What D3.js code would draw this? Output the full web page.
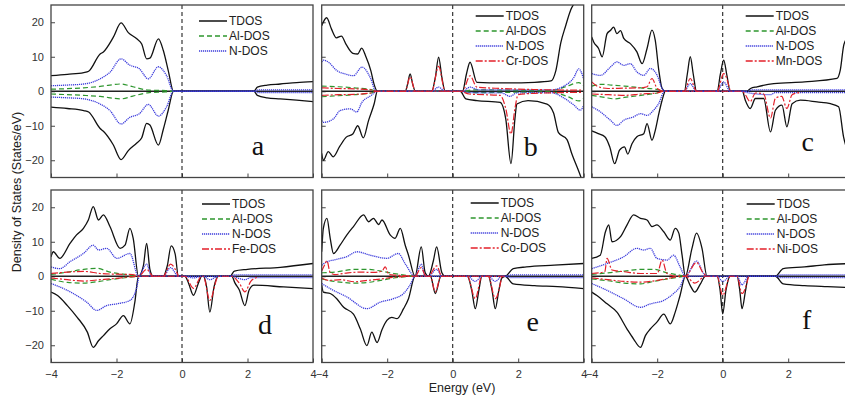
<!DOCTYPE html>
<html>
<head>
<meta charset="utf-8">
<script src="https://cdn.jsdelivr.net/npm/d3@7"></script>
<style>
  body { margin: 0; background: #fff; }
  svg { display: block; font-family: "Liberation Sans", Arial, sans-serif; }
</style>
</head>
<body>
<svg id="chart" width="845" height="398"></svg>
<script>
// ticks and labels
const energyTicks = [-4, -2, 0, 2, 4];
const dosTicks = [-20, -10, 0, 10, 20];
const panelLetters = ['a', 'b', 'c', 'd', 'e', 'f'];
const metalNames = [null, 'Cr', 'Mn', 'Fe', 'Co', 'Ni'];

// ---- panel a : AlN ----
const tdosUpA = [[-4,4.5],[-3.5,4.9],[-3,5.4],[-2.85,5.8],[-2.5,10.8],[-2.4,11.4],[-2.1,15.6],[-1.86,19.8],[-1.64,17],[-1.38,15.2],[-1.23,13.7],[-1.08,9.4],[-0.98,9.6],[-0.72,15.2],[-0.57,11.8],[-0.42,6],[-0.26,0],[2.2,0],[2.3,1.2],[2.6,1.8],[3,2.1],[3.5,2.5],[4,2.8]];
const tdosDnA = [[-4,-4.6],[-3.5,-5],[-3,-5.6],[-2.85,-6],[-2.5,-10.8],[-2.4,-11.6],[-2.1,-15.5],[-1.86,-19.8],[-1.64,-17.2],[-1.38,-15],[-1.23,-13.5],[-1.08,-9.3],[-0.98,-9.8],[-0.72,-15.6],[-0.57,-11],[-0.42,-5.5],[-0.26,0],[2.2,0],[2.3,-1.2],[2.6,-1.9],[3,-2.2],[3.5,-2.6],[4,-3]];
const alUpA = [[-4,0.6],[-3,1.0],[-2.5,1.4],[-1.86,2.1],[-1.5,1.3],[-1.0,0.3],[-0.5,0.2],[-0.26,0]];
const alDnA = [[-4,-0.8],[-3,-1.2],[-2.5,-1.5],[-1.86,-2.2],[-1.5,-1.4],[-1.0,-0.4],[-0.5,-0.2],[-0.26,0]];
const nUpA = [[-4,1.6],[-3.5,1.8],[-3,2.1],[-2.5,3.6],[-2.2,5.5],[-1.86,9.4],[-1.6,7.6],[-1.3,6.5],[-1.03,3.6],[-0.72,7.1],[-0.47,4.5],[-0.26,0],[2.2,0],[2.35,0.4],[4,0.4]];
const nDnA = [[-4,-1.7],[-3.5,-1.9],[-3,-2.2],[-2.5,-3.7],[-2.2,-5.6],[-1.86,-9.5],[-1.6,-7.6],[-1.3,-6.5],[-1.03,-3.8],[-0.72,-7.2],[-0.47,-4.5],[-0.26,0],[2.2,0],[2.35,-0.4],[4,-0.4]];

// ---- panel b : Cr ----
const tdosUpB = [[-4,19],[-3.85,21.3],[-3.7,18],[-3.55,15.5],[-3.4,16],[-3.25,13.5],[-3.05,11],[-2.9,10.8],[-2.78,12.5],[-2.65,10],[-2.5,6],[-2.4,2],[-2.3,0],[-1.45,0],[-1.38,2],[-1.3,5],[-1.22,2],[-1.14,0],[-0.64,0],[-0.53,4],[-0.43,9.9],[-0.33,4],[-0.23,0],[0.3,0],[0.42,5],[0.53,8.4],[0.74,2.6],[1.5,2.4],[2.5,2.6],[3.0,3],[3.15,6],[3.3,14],[3.45,19],[3.6,23.5],[3.75,26],[4,28]];
const tdosDnB = [[-4,-18],[-3.95,-20],[-3.8,-17.5],[-3.65,-19],[-3.45,-16],[-3.25,-13.3],[-3.05,-12.4],[-2.9,-10],[-2.73,-13.5],[-2.57,-8.5],[-2.4,-3.7],[-2.3,0],[0.23,0],[0.4,-2.2],[0.74,-2.7],[1.45,-3.2],[1.62,-8],[1.78,-21],[1.9,-8],[1.96,-3.7],[2.3,-2.7],[2.88,-3.7],[3.08,-6.3],[3.23,-12],[3.49,-14],[3.64,-18.2],[3.84,-23],[4,-27]];
const alUpB = [[-4,1.5],[-3.5,1.3],[-3,1],[-2.5,0.5],[-2.3,0],[0.3,0],[0.6,0.4],[3.0,0.2],[3.5,1.5],[3.85,2.5],[4,1.5]];
const alDnB = [[-4,-1.6],[-3.5,-1.3],[-3,-1],[-2.5,-0.5],[-2.3,0],[0.3,0],[0.6,-0.4],[3.0,-0.2],[3.5,-1.5],[3.85,-2.8],[4,-2]];
const nUpB = [[-4,8.5],[-3.94,9],[-3.79,8.4],[-3.54,6],[-3.28,5],[-3.03,4.5],[-2.77,7],[-2.5,3.6],[-2.35,0],[-0.64,0],[-0.43,1.2],[-0.23,0],[0.3,0],[0.53,1.2],[0.8,0.4],[3.0,0.4],[3.4,1.5],[3.7,4],[3.85,6.5],[4,3.5]];
const nDnB = [[-4,-8.5],[-3.94,-9],[-3.64,-8],[-3.44,-5.6],[-3.13,-5.1],[-2.93,-6],[-2.77,-3.2],[-2.5,-1.3],[-2.3,0],[0.23,0],[0.5,-0.4],[1.5,-0.5],[1.75,-1.5],[1.95,-0.5],[3.0,-0.4],[3.4,-2],[3.7,-4],[3.9,-5.5],[4,-4]];
const mUpB = [[-4,1],[-3.5,0.8],[-3,0.7],[-2.5,0.4],[-2.3,0],[-1.45,0],[-1.3,4.2],[-1.14,0],[-0.64,0],[-0.43,7.2],[-0.23,0],[0.3,0],[0.53,4.5],[0.74,1.2],[1.5,0.8],[2.5,0.5],[4,0.3]];
const mDnB = [[-4,-1.2],[-3.5,-1],[-3,-0.9],[-2.5,-0.5],[-2.3,0],[0.23,0],[0.5,-0.8],[1.45,-1.2],[1.62,-5],[1.78,-12.4],[1.9,-5],[2.0,-1],[2.5,-0.6],[4,-0.3]];

// ---- panel c : Mn ----
const tdosUpC = [[-4,15.7],[-3.94,14.3],[-3.79,12.4],[-3.68,10],[-3.53,16.7],[-3.43,17.6],[-3.33,18.6],[-3.23,16.7],[-3.12,17.6],[-3.02,15.3],[-2.82,13.8],[-2.62,11.4],[-2.46,8],[-2.31,12.4],[-2.16,17.7],[-2.06,14.8],[-1.95,6],[-1.85,0.8],[-1.75,0],[-1.17,0],[-1.08,5],[-0.99,10],[-0.9,5],[-0.8,0],[-0.17,0],[-0.07,5],[0.03,9],[0.13,4.5],[0.23,0],[0.74,0],[0.85,0.8],[1.05,1.3],[1.56,2.2],[2.5,2.7],[3.49,3.7],[3.59,6.1],[3.7,13.5],[3.85,16],[4,17]];
const tdosDnC = [[-4,-11.5],[-3.8,-12.3],[-3.6,-13.2],[-3.45,-16.1],[-3.3,-21],[-3.15,-17.1],[-3.0,-16.1],[-2.9,-18.2],[-2.77,-15.2],[-2.62,-13.2],[-2.41,-12.3],[-2.31,-9.4],[-2.16,-14.2],[-2.06,-11.4],[-1.95,-6.5],[-1.85,-2.6],[-1.75,0],[0.6,0],[0.69,-2.6],[0.84,-5],[1.0,-2.1],[1.25,-2.1],[1.46,-11.8],[1.61,-5.5],[1.81,-4],[1.96,-10.3],[2.12,-3.6],[2.37,-2.6],[2.88,-3.1],[3.29,-3.6],[3.54,-4.5],[3.69,-13.2],[3.8,-17],[4,-20]];
const alUpC = [[-4,1.5],[-3.7,2],[-3.4,1.8],[-3,1.5],[-2.5,1],[-2,0.5],[-1.8,0]];
const alDnC = [[-4,-1.2],[-3.6,-1.8],[-3.3,-2.2],[-3,-1.8],[-2.5,-1.2],[-2,-0.5],[-1.8,0]];
const nUpC = [[-4,5.1],[-3.73,4.6],[-3.43,7],[-3.23,8.5],[-3.02,7.5],[-2.82,8],[-2.62,5.6],[-2.41,4.6],[-2.21,6.6],[-2.0,4.6],[-1.85,0.8],[-1.75,0],[-1.17,0],[-0.99,2.2],[-0.8,0],[-0.17,0],[0.03,2.7],[0.23,0],[0.74,0],[0.9,0.4],[4,0.4]];
const nDnC = [[-4,-4.5],[-3.73,-6],[-3.43,-8.4],[-3.23,-9.9],[-3.02,-8.4],[-2.72,-7.4],[-2.51,-6.5],[-2.31,-7],[-2.11,-5.5],[-1.95,-3.5],[-1.78,0],[0.6,0],[0.8,-0.5],[1.46,-1],[1.6,-0.4],[4,-0.4]];
const mUpC = [[-4,2.7],[-3.8,1.3],[-3.5,0.8],[-3,0.9],[-2.5,1],[-2.31,1.3],[-2.16,3.7],[-2.0,0.8],[-1.8,0],[-1.17,0],[-0.99,3.7],[-0.8,0],[-0.17,0],[0.03,5.1],[0.23,0]];
const mDnC = [[-4,-0.8],[-3.5,-1],[-3,-1.2],[-2.5,-0.8],[-2,-0.5],[-1.8,0],[0.6,0],[0.69,-1],[0.84,-3],[1.0,-0.5],[1.25,-0.8],[1.46,-7.8],[1.61,-2],[1.8,-1.5],[1.96,-5],[2.12,-1],[2.4,-0.3]];

// ---- panel d : Fe ----
const tdosUpD = [[-4,5.6],[-3.93,7.1],[-3.73,5.2],[-3.42,9.5],[-3.22,12],[-3.01,13.9],[-2.86,16.3],[-2.71,20.2],[-2.55,16.3],[-2.4,17.8],[-2.2,14.4],[-1.89,8.1],[-1.74,9],[-1.59,13.9],[-1.49,11],[-1.33,0],[-1.18,3],[-1.08,9.5],[-0.98,2],[-0.88,0],[-0.57,0],[-0.45,3],[-0.33,8.8],[-0.21,6.5],[-0.11,0],[1.47,0],[1.6,1.5],[2.0,2.0],[3,2.6],[4,3.7]];
const tdosDnD = [[-4,-4.6],[-3.8,-5.6],[-3.5,-8.5],[-3.2,-11.9],[-2.89,-16.2],[-2.71,-20.6],[-2.55,-18.7],[-2.4,-17.2],[-2.2,-15.2],[-2.0,-13.8],[-1.79,-11.4],[-1.59,-13.8],[-1.44,-7.5],[-1.33,0],[0.09,0],[0.2,-2],[0.35,-5.5],[0.5,-2],[0.6,0],[0.65,0],[0.75,-3],[0.85,-10.4],[0.98,-3],[1.11,0],[1.52,0],[1.62,-2],[1.75,-4],[1.92,-8.5],[2.05,-4],[2.2,-2.6],[3.1,-3.1],[4,-3.6]];
const alUpD = [[-4,0.5],[-3.5,1.2],[-3.0,2],[-2.6,2.3],[-2.2,1.2],[-1.8,0.6],[-1.33,0]];
const alDnD = [[-4,-0.8],[-3.5,-1.8],[-3.0,-2],[-2.6,-1.6],[-2.2,-1],[-1.8,-0.5],[-1.33,0]];
const nUpD = [[-4,2.7],[-3.73,2.2],[-3.42,4.2],[-3.01,6.6],[-2.71,9],[-2.55,7.6],[-2.3,8.1],[-1.99,5.2],[-1.59,6.6],[-1.33,0],[-1.08,3.5],[-0.93,0],[-0.57,0],[-0.35,2.5],[-0.11,0],[1.47,0],[1.6,0.4],[4,0.4]];
const nDnD = [[-4,-2.1],[-3.73,-3.1],[-3.32,-5],[-2.91,-7.5],[-2.6,-9.9],[-2.3,-8.5],[-1.99,-8],[-1.59,-7],[-1.39,-3.6],[-1.3,0],[0.09,0],[0.35,-0.5],[0.6,0],[0.65,0],[0.85,-1],[1.11,0],[1.52,0],[1.7,-0.5],[1.92,-1],[2.1,-0.4],[4,-0.4]];
const mUpD = [[-4,0.8],[-3.5,1.2],[-3,1.4],[-2.5,0.8],[-2,0.6],[-1.5,0.5],[-1.33,0],[-1.08,2],[-0.88,0],[-0.57,0],[-0.35,3.5],[-0.11,0]];
const mDnD = [[-4,-0.5],[-3.5,-1],[-3,-1.4],[-2.5,-1],[-2,-0.6],[-1.33,0],[0.09,0],[0.35,-3.5],[0.6,0],[0.65,0],[0.85,-7],[1.11,0],[1.52,0],[1.75,-2],[1.92,-4.5],[2.1,-1.5],[2.3,-0.3]];

// ---- panel e : Co ----
const tdosUpE = [[-4,7.1],[-3.95,13.9],[-3.84,16.8],[-3.74,11],[-3.64,6.6],[-3.44,9],[-3.23,12],[-3.03,14.4],[-2.72,17.8],[-2.57,15.8],[-2.42,16.8],[-2.26,15],[-2.16,16.3],[-1.91,12],[-1.76,11],[-1.6,13.9],[-1.45,9],[-1.35,6.1],[-1.15,0],[-0.96,8.5],[-0.84,1],[-0.74,0],[-0.59,4.5],[-0.49,8.5],[-0.33,1],[-0.23,0],[1.6,0],[1.85,2.2],[2.25,2.7],[3.1,3.2],[4,3.7]];
const tdosDnE = [[-4,-2.6],[-3.95,-4.6],[-3.74,-5],[-3.54,-6.5],[-3.33,-9],[-3.03,-11],[-2.82,-15.3],[-2.62,-20.1],[-2.47,-16.2],[-2.31,-19.2],[-2.16,-15.5],[-2.01,-12.8],[-1.86,-11.9],[-1.7,-12.3],[-1.5,-9.4],[-1.35,-6.5],[-1.15,0],[-0.68,0],[-0.53,-5],[-0.36,0],[0.45,0],[0.58,-4],[0.69,-9.4],[0.8,-4],[0.89,0],[1.09,0],[1.2,-4],[1.3,-9.4],[1.41,-4],[1.5,-0.5],[1.6,0],[1.85,-2.2],[2.5,-2.7],[3.2,-3],[4,-3.6]];
const alUpE = [[-4,1],[-3.6,1.2],[-3.0,2],[-2.6,2],[-2.2,1.5],[-1.8,0.8],[-1.2,0]];
const alDnE = [[-4,-0.8],[-3.6,-1.5],[-3.0,-2],[-2.6,-1.8],[-2.2,-1.2],[-1.8,-0.5],[-1.2,0]];
const nUpE = [[-4,3.2],[-3.84,4.2],[-3.64,4.7],[-3.23,5.7],[-2.92,7.1],[-2.52,6.1],[-2.01,5.2],[-1.66,6.6],[-1.45,3.6],[-1.15,0],[-0.96,3.5],[-0.84,0],[-0.74,0],[-0.49,2],[-0.33,0],[1.6,0],[1.8,0.4],[4,0.4]];
const nDnE = [[-4,-2.1],[-3.74,-3.6],[-3.23,-6],[-2.62,-9.4],[-2.21,-7.5],[-1.81,-6.5],[-1.5,-5],[-1.3,-2.5],[-1.15,0],[0.45,0],[0.69,-1.5],[0.89,0],[1.09,0],[1.3,-1.5],[1.5,0],[1.6,0],[1.8,-0.4],[4,-0.4]];
const mUpE = [[-4,1.5],[-3.9,3.5],[-3.84,4.5],[-3.74,1],[-3.6,0.5],[-3.2,1],[-2.8,1.2],[-2.4,1.1],[-2.16,1.5],[-2.06,2.7],[-1.95,0.5],[-1.7,0.3],[-1.15,0],[-0.96,2.5],[-0.84,0.3],[-0.74,0],[-0.49,3],[-0.33,0],[1.6,0]];
const mDnE = [[-4,-0.5],[-3.8,-1.2],[-3.4,-1],[-3,-1.6],[-2.6,-1.2],[-2.2,-0.8],[-1.8,-0.3],[-1.15,0],[-0.68,0],[-0.53,-4.5],[-0.36,0],[0.45,0],[0.69,-6.5],[0.89,0],[1.09,0],[1.3,-6.5],[1.5,0]];

// ---- panel f : Ni ----
const tdosUpF = [[-4,5.2],[-3.74,6.1],[-3.58,12.9],[-3.48,14.9],[-3.38,10],[-3.12,11.5],[-2.92,14.9],[-2.72,17.8],[-2.51,16.8],[-2.31,16.3],[-2.16,14.4],[-2.01,14.9],[-1.8,12.9],[-1.6,10.5],[-1.45,13.9],[-1.34,12.5],[-1.24,6.1],[-1.14,0],[-0.94,8],[-0.8,12.5],[-0.63,8],[-0.48,0],[1.61,0],[1.85,2.2],[2.5,2.7],[3.1,3.3],[4,3.7]];
const tdosDnF = [[-4,-4.6],[-3.84,-5.6],[-3.53,-8],[-3.23,-10.4],[-2.92,-15.3],[-2.72,-18.2],[-2.51,-20.6],[-2.36,-17.2],[-2.21,-15.3],[-2.01,-13.3],[-1.8,-11],[-1.6,-13.8],[-1.45,-10.4],[-1.3,-5.5],[-1.14,0],[-0.99,-2.7],[-0.85,-4.6],[-0.68,-2.2],[-0.53,0],[-0.17,0],[-0.08,-4],[0,-10.9],[0.1,-4],[0.23,0],[0.44,0],[0.52,-4],[0.59,-9.4],[0.7,-4],[0.79,0],[1.61,0],[1.85,-2.2],[2.5,-2.7],[3.2,-3],[4,-3.3]];
const alUpF = [[-4,0.5],[-3.5,1],[-3.0,1.5],[-2.5,2],[-2.1,2],[-1.7,1],[-1.3,0.3],[-1.14,0]];
const alDnF = [[-4,-0.8],[-3.5,-1.3],[-3.0,-2],[-2.5,-2.2],[-2.1,-1.5],[-1.7,-0.8],[-1.14,0]];
const nUpF = [[-4,2.2],[-3.53,3.7],[-3.03,5.6],[-2.62,8.1],[-2.41,7.6],[-2.21,8.1],[-2.01,5.2],[-1.7,4.7],[-1.5,6.1],[-1.3,2.7],[-1.14,0],[-0.8,4.4],[-0.58,0.8],[-0.48,0],[1.61,0],[1.8,0.4],[4,0.4]];
const nDnF = [[-4,-2.1],[-3.53,-4.1],[-3.03,-6.5],[-2.51,-9],[-2.21,-8],[-1.8,-7],[-1.5,-5],[-1.3,-3],[-1.14,0],[-0.17,0],[0,-1.5],[0.23,0],[0.44,0],[0.59,-2.5],[0.79,0],[1.61,0],[1.8,-0.4],[4,-0.4]];
const mUpF = [[-4,0.8],[-3.6,1.3],[-3.53,5.2],[-3.38,1.8],[-3.0,1.3],[-2.5,0.8],[-2.0,0.8],[-1.85,4.7],[-1.7,0.8],[-1.4,0],[-1.14,0],[-0.8,4],[-0.6,1],[-0.48,0]];
const mDnF = [[-4,-0.5],[-3.5,-1],[-3,-1.5],[-2.5,-1.7],[-2,-1.2],[-1.6,-0.5],[-1.3,0],[-1.14,0],[-0.85,-2],[-0.53,0],[-0.17,0],[0,-5.5],[0.23,0],[0.44,0],[0.59,-5],[0.79,0]];

const panelSeries = [
  { tdos: [tdosUpA, tdosDnA], al: [alUpA, alDnA], n: [nUpA, nDnA], m: null },
  { tdos: [tdosUpB, tdosDnB], al: [alUpB, alDnB], n: [nUpB, nDnB], m: [mUpB, mDnB] },
  { tdos: [tdosUpC, tdosDnC], al: [alUpC, alDnC], n: [nUpC, nDnC], m: [mUpC, mDnC] },
  { tdos: [tdosUpD, tdosDnD], al: [alUpD, alDnD], n: [nUpD, nDnD], m: [mUpD, mDnD] },
  { tdos: [tdosUpE, tdosDnE], al: [alUpE, alDnE], n: [nUpE, nDnE], m: [mUpE, mDnE] },
  { tdos: [tdosUpF, tdosDnF], al: [alUpF, alDnF], n: [nUpF, nDnF], m: [mUpF, mDnF] }
];

// layout
const colLeft = [51, 321.7, 591.7];
const rowTop = [5, 190];
const pw = 262, ph = 172.5;
const legendLeft = [148, 154, 154, 151, 149, 155];
const legendTop = [16, 11, 11, 14, 13, 14];
const letterPos = [[207, 150], [209, 151], [216, 146], [214, 144], [211, 141], [215, 139]];

const styles = {
  tdos: { color: '#111', dash: null, width: 1.3 },
  al: { color: '#2e962e', dash: '5,3', width: 1.2 },
  n: { color: '#3c3cdc', dash: '1.2,0.8', width: 1.3 },
  m: { color: '#e3202a', dash: '7,2,2,2', width: 1.2 }
};

const svg = d3.select('#chart');

panelSeries.forEach((ps, i) => {
  const col = i % 3, row = Math.floor(i / 3);
  const g = svg.append('g').attr('transform', `translate(${colLeft[col]},${rowTop[row]})`);

  const x = d3.scaleLinear().domain([-4, 4]).range([0, pw]);
  const y = d3.scaleLinear().domain([-25, 25]).range([ph, 0]);

  g.append('clipPath').attr('id', 'clip' + i)
    .append('rect').attr('width', pw).attr('height', ph);

  // axes, ticks pointing inward
  const yAx = g.append('g').call(d3.axisLeft(y).tickValues(dosTicks).tickSizeInner(-4).tickSizeOuter(0).tickPadding(7));
  // the last column runs past the page edge, so its "4" label is not shown
  const xt = col === 2 ? energyTicks.slice(0, -1) : energyTicks;
  const xAx = g.append('g').attr('transform', `translate(0,${ph})`)
    .call(d3.axisBottom(x).tickValues(xt).tickSizeInner(-4).tickSizeOuter(0).tickPadding(8));
  [yAx, xAx].forEach(ax => {
    ax.select('.domain').remove();
    ax.selectAll('line').attr('stroke', '#444');
    ax.selectAll('text').attr('font-size', 11).attr('fill', '#333');
  });
  if (col !== 0) yAx.selectAll('text').remove();
  if (row !== 1) xAx.selectAll('text').remove();

  const plot = g.append('g').attr('clip-path', `url(#clip${i})`);

  // zero line and Fermi level
  plot.append('line').attr('x1', 0).attr('x2', pw).attr('y1', y(0)).attr('y2', y(0))
    .attr('stroke', '#222').attr('stroke-width', 1.3);
  plot.append('line').attr('x1', x(0)).attr('x2', x(0)).attr('y1', 0).attr('y2', ph)
    .attr('stroke', '#222').attr('stroke-width', 1.1).attr('stroke-dasharray', '4,3');

  const line = d3.line().x(d => x(d[0])).y(d => y(d[1])).curve(d3.curveMonotoneX);

  ['tdos', 'al', 'n', 'm'].forEach(key => {
    if (!ps[key]) return;
    const st = styles[key];
    ps[key].forEach(arr => {
      plot.append('path').datum(arr)
        .attr('d', line)
        .attr('fill', 'none')
        .attr('stroke', st.color)
        .attr('stroke-width', st.width)
        .attr('stroke-dasharray', st.dash);
    });
  });

  // frame
  g.append('rect').attr('width', pw).attr('height', ph)
    .attr('fill', 'none').attr('stroke', '#444').attr('stroke-width', 1.3);

  // legend
  const names = ['TDOS', 'Al-DOS', 'N-DOS'];
  const keys = ['tdos', 'al', 'n'];
  if (metalNames[i]) { names.push(metalNames[i] + '-DOS'); keys.push('m'); }
  const lg = g.append('g').attr('transform', `translate(${legendLeft[i]},${legendTop[i]})`);
  names.forEach((nm, k) => {
    const st = styles[keys[k]];
    lg.append('line').attr('x1', 0).attr('x2', 28).attr('y1', k * 15).attr('y2', k * 15)
      .attr('stroke', st.color).attr('stroke-width', st.width + 0.2)
      .attr('stroke-dasharray', st.dash);
    lg.append('text').attr('x', 30).attr('y', k * 15 + 4.2)
      .attr('font-size', 12).attr('fill', '#222').text(nm);
  });

  // panel letter
  g.append('text').attr('x', letterPos[i][0]).attr('y', letterPos[i][1])
    .attr('text-anchor', 'middle')
    .attr('font-family', '"Liberation Serif", "Times New Roman", serif')
    .attr('font-size', 28).attr('fill', '#111')
    .text(panelLetters[i]);
});

// axis titles
svg.append('text')
  .attr('transform', 'translate(17,192) rotate(-90)')
  .attr('text-anchor', 'middle').attr('dominant-baseline', 'central')
  .attr('font-size', 12.5).attr('fill', '#222')
  .text('Density of States (States/eV)');

svg.append('text')
  .attr('x', 462).attr('y', 392)
  .attr('text-anchor', 'middle')
  .attr('font-size', 12.5).attr('fill', '#222')
  .text('Energy (eV)');
</script>
</body>
</html>
